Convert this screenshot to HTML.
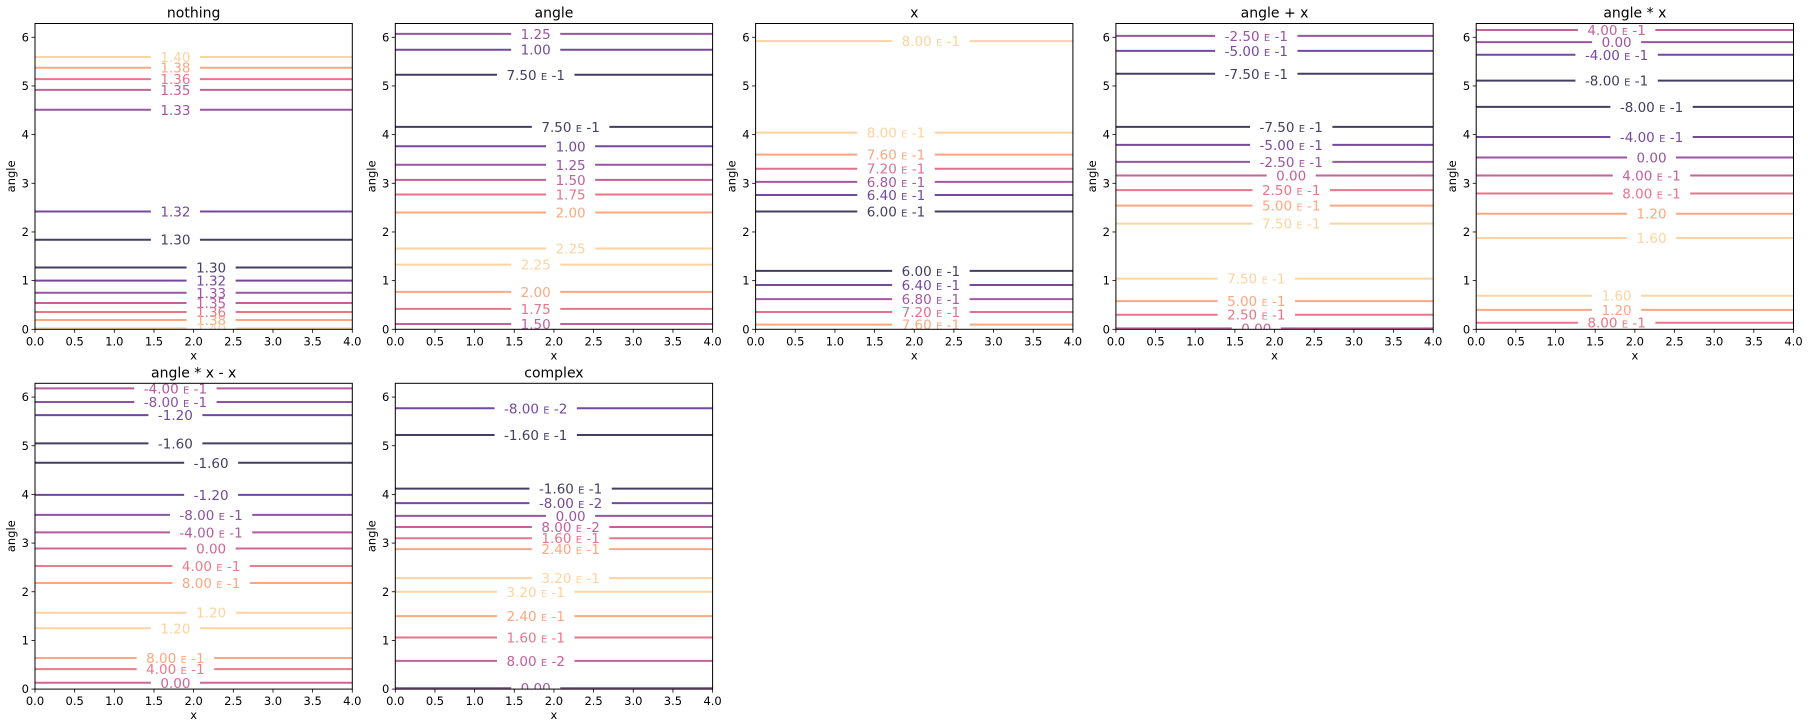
<!DOCTYPE html>
<html><head><meta charset="utf-8">
<style>
html,body{margin:0;padding:0;background:#fff;}
svg{display:block;font-family:"DejaVu Sans","Liberation Sans",sans-serif;}
</style></head>
<body>
<svg id="fig" width="1808" height="728" viewBox="0 0 1808 728" xmlns="http://www.w3.org/2000/svg"></svg>
<script>
// ---- data ----
const panelTitles = ["nothing","angle","x","angle + x","angle * x","angle * x - x","complex"];
const xTicks = [0.0,0.5,1.0,1.5,2.0,2.5,3.0,3.5,4.0];
const yTicks = [0,1,2,3,4,5,6];

const nothingLevels = [1.40,1.38,1.36,1.35,1.33,1.32,1.30, 1.30,1.32,1.33,1.35,1.36,1.38,1.40];
const nothingY      = [5.595,5.375,5.14,4.92,4.51,2.42,1.84, 1.27,1.0,0.75,0.54,0.355,0.19,0.02];
const nothingLabelX = [1.77,1.77,1.77,1.77,1.77,1.77,1.77, 2.22,2.22,2.22,2.22,2.22,2.22,2.22];

const angleLevels = [1.25,1.00,0.75, 0.75,1.00,1.25,1.50,1.75,2.00,2.25, 2.25,2.00,1.75,1.50];
const angleY      = [6.07,5.745,5.23, 4.16,3.76,3.38,3.07,2.77,2.40,1.66, 1.33,0.77,0.42,0.11];
const angleLabelX = [1.77,1.77,1.77, 2.21,2.21,2.21,2.21,2.21,2.21,2.21, 1.77,1.77,1.77,1.77];

const xLevels = [0.80, 0.80,0.76,0.72,0.68,0.64,0.60, 0.60,0.64,0.68,0.72,0.76];
const xY      = [5.92, 4.04,3.59,3.30,3.03,2.76,2.42, 1.20,0.91,0.62,0.355,0.095];
const xLabelX = [2.21, 1.77,1.77,1.77,1.77,1.77,1.77, 2.21,2.21,2.21,2.21,2.21];

const apxLevels = [-0.25,-0.50,-0.75, -0.75,-0.50,-0.25,0,0.25,0.50,0.75, 0.75,0.50,0.25,0];
const apxY      = [6.03,5.72,5.25, 4.16,3.79,3.44,3.16,2.86,2.54,2.17, 1.04,0.58,0.30,0.02];
const apxLabelX = [1.77,1.77,1.77, 2.21,2.21,2.21,2.21,2.21,2.21,2.21, 1.77,1.77,1.77,1.77];

const atxLevels = [0.4,0,-0.4,-0.8, -0.8,-0.4,0,0.4,0.8,1.2,1.6, 1.6,1.2,0.8];
const atxY      = [6.15,5.90,5.64,5.11, 4.57,3.95,3.53,3.16,2.79,2.375,1.876, 0.69,0.40,0.135];
const atxLabelX = [1.77,1.77,1.77,1.77, 2.21,2.21,2.21,2.21,2.21,2.21,2.21, 1.77,1.77,1.77];

const atxmxLevels = [-0.4,-0.8,-1.2,-1.6, -1.6,-1.2,-0.8,-0.4,0,0.4,0.8,1.2, 1.2,0.8,0.4,0];
const atxmxY      = [6.18,5.90,5.63,5.05, 4.65,3.99,3.58,3.22,2.89,2.53,2.18,1.57, 1.25,0.64,0.41,0.13];
const atxmxLabelX = [1.77,1.77,1.77,1.77, 2.22,2.22,2.22,2.22,2.22,2.22,2.22,2.22, 1.77,1.77,1.77,1.77];

const complexLevels = [-0.08,-0.16, -0.16,-0.08,0,0.08,0.16,0.24,0.32, 0.32,0.24,0.16,0.08,0];
const complexY      = [5.77,5.22, 4.12,3.82,3.56,3.33,3.10,2.876,2.28, 2.00,1.50,1.06,0.58,0.02];
const complexLabelX = [1.77,1.77, 2.21,2.21,2.21,2.21,2.21,2.21,2.21, 1.77,1.77,1.77,1.77,1.77];

const panelData = [
  [nothingLevels,nothingY,nothingLabelX],
  [angleLevels,angleY,angleLabelX],
  [xLevels,xY,xLabelX],
  [apxLevels,apxY,apxLabelX],
  [atxLevels,atxY,atxLabelX],
  [atxmxLevels,atxmxY,atxmxLabelX],
  [complexLevels,complexY,complexLabelX]
];

// ---- rendering ----
const NS = "http://www.w3.org/2000/svg";
const svg = document.getElementById('fig');
const pal6 = ["#433f62","#744a9e","#a8589e","#e0708c","#fba882","#fdd3a0"];
const pal7 = ["#433f62","#744a9e","#9a55a0","#c2619a","#e8758a","#fba882","#fdd3a0"];
const pal8 = ["#433f62","#6e4a9c","#8e52a0","#b05c9e","#cc6794","#ec7a88","#fba882","#fdd3a0"];
const W = 317.3, H = 305.8, YMAX = 2*Math.PI, XMAX = 4;
function mk(tag, attrs, parent){ const e=document.createElementNS(NS,tag); for(const k in attrs) e.setAttribute(k,attrs[k]); (parent||svg).appendChild(e); return e; }
function fmt(v){
  if (v===0) return {m:"0.00",e:null};
  if (Math.abs(v)>=1) return {m:v.toFixed(2),e:null};
  const ex=Math.floor(Math.log10(Math.abs(v))+1e-9);
  const m=v/Math.pow(10,ex);
  return {m:m.toFixed(2),e:String(ex)};
}
panelTitles.forEach((title,i)=>{
  const col=i<5?i:i-5, row=i<5?0:1;
  const L=35+col*360.3, T=row===0?23.5:383.3;
  const sx=v=>L+v/XMAX*W, sy=v=>T+H-v/YMAX*H;
  const g=mk('g',{});
  
  
  const cid='clip'+i;
  const cp=mk('clipPath',{id:cid},g); mk('rect',{x:L,y:T,width:W,height:H},cp);
  const [levels,ys,lxs]=panelData[i];
  const uniq=[...new Set(levels)].sort((a,b)=>a-b);
  const pal=uniq.length===8?pal8:(uniq.length===6?pal6:pal7);
  const cg=mk('g',{'clip-path':'url(#'+cid+')'},g);
  levels.forEach((lv,j)=>{
    const color=pal[uniq.indexOf(lv)];
    const y=sy(ys[j]), cx=sx(lxs[j]);
    const f=fmt(lv);
    const t=mk('text',{x:cx,y:y+5,'text-anchor':'middle','font-size':13.5,fill:color},cg);
    
    
    if(f.e===null){ t.textContent=f.m; }
    else {
      const a=mk('tspan',{},t); a.textContent=f.m+" ";
      const b=mk('tspan',{'font-size':10},t); b.textContent="E";
      const c=mk('tspan',{},t); c.textContent=" "+f.e;
    }
    const tw=t.getComputedTextLength();
    const gap=tw/2+9.5;
    const l1=mk('line',{x1:L,x2:cx-gap,y1:y,y2:y,stroke:color,'stroke-width':2},cg);
    
    
    const l2=mk('line',{x1:cx+gap,x2:L+W,y1:y,y2:y,stroke:color,'stroke-width':2},cg);
    
    
  });
  const fr=mk('rect',{x:L,y:T,width:W,height:H,fill:'none',stroke:'#000','stroke-width':1},g);
  
  
  xTicks.forEach(v=>{
    const x=sx(v);
    mk('line',{x1:x,x2:x,y1:T+H,y2:T+H+3.5,stroke:'#000','stroke-width':0.8},g);
    const t=mk('text',{x:x,y:T+H+16,'text-anchor':'middle','font-size':11.5,fill:'#000'},g);
    
    
    t.textContent=v.toFixed(1);
  });
  yTicks.forEach(v=>{
    const y=sy(v);
    mk('line',{x1:L-3.5,x2:L,y1:y,y2:y,stroke:'#000','stroke-width':0.8},g);
    const t=mk('text',{x:L-6,y:y+4,'text-anchor':'end','font-size':11.5,fill:'#000'},g);
    
    
    t.textContent=String(v);
  });
  const xl=mk('text',{x:L+W/2,y:T+H+30,'text-anchor':'middle','font-size':11.5,fill:'#000'},g);
  
  
  xl.textContent='x';
  const yl=mk('text',{x:0,y:0,'text-anchor':'middle','font-size':11.5,fill:'#000',transform:`translate(${L-20},${T+H/2}) rotate(-90)`},g);
  
  
  yl.textContent='angle';
  const tt=mk('text',{x:L+W/2,y:T-6,'text-anchor':'middle','font-size':14,fill:'#000'},g);
  
  
  tt.textContent=title;
});
</script>
</body></html>
